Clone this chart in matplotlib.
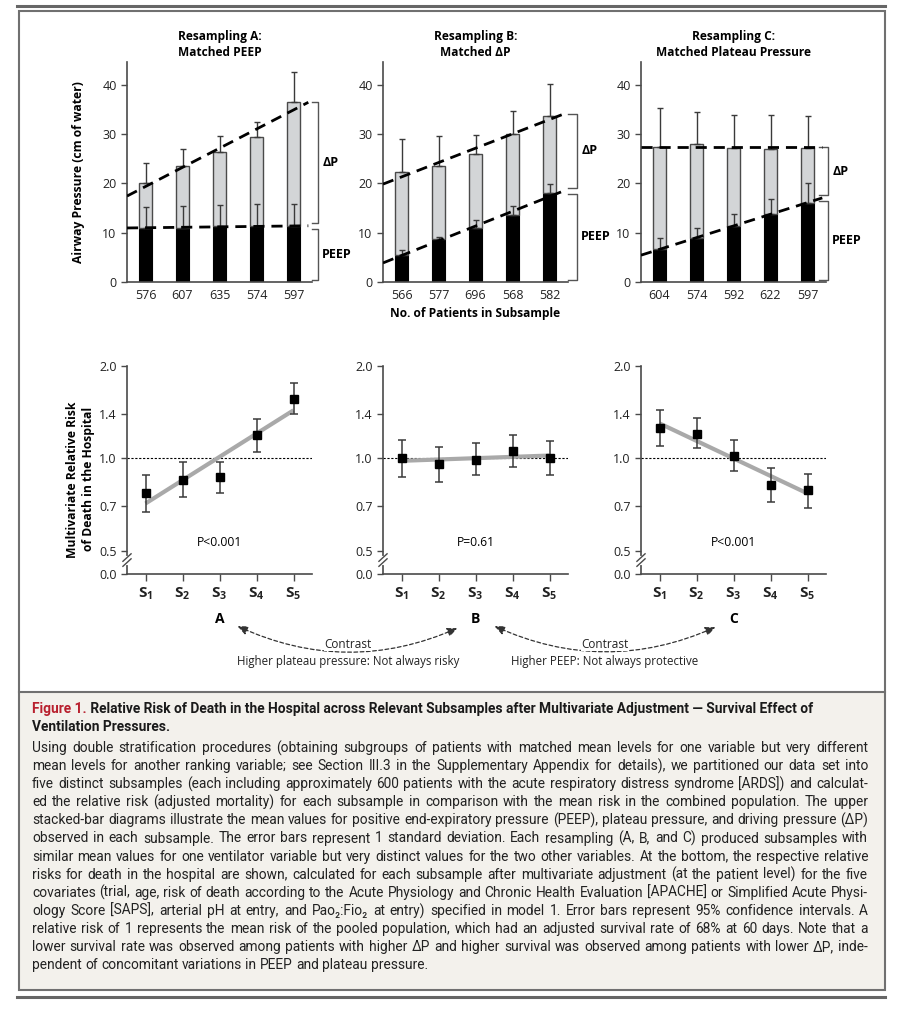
import numpy as np
import matplotlib.pyplot as plt
from matplotlib.patches import Rectangle, FancyArrowPatch

plt.rcParams['font.family'] = ['Open Sans', 'DejaVu Sans']
plt.rcParams['mathtext.fontset'] = 'custom'
plt.rcParams['mathtext.rm'] = 'Open Sans'
plt.rcParams['mathtext.bf'] = 'Open Sans:bold'
plt.rcParams['mathtext.it'] = 'Open Sans:italic'

# --- dane: gorne wykresy (srednie i 1 SD w gore) ---
n_A = ['576', '607', '635', '574', '597']
peep_A = [11.0, 11.0, 11.3, 11.3, 11.3]
peep_sd_A = [4.3, 4.4, 4.4, 4.6, 4.6]
plat_A = [20.0, 23.5, 26.3, 29.3, 36.5]
plat_sd_A = [4.2, 3.4, 3.2, 3.2, 6.0]

n_B = ['566', '577', '696', '568', '582']
peep_B = [5.5, 8.7, 10.9, 13.6, 18.0]
peep_sd_B = [1.0, 0.5, 1.7, 1.9, 1.9]
plat_B = [22.4, 23.5, 26.0, 30.0, 33.7]
plat_sd_B = [6.5, 6.0, 3.8, 4.7, 6.4]

n_C = ['604', '574', '592', '622', '597']
peep_C = [6.6, 9.0, 11.4, 13.7, 16.1]
peep_sd_C = [2.3, 2.0, 2.4, 3.2, 3.9]
plat_C = [27.4, 27.9, 27.2, 26.9, 27.1]
plat_sd_C = [7.8, 6.5, 6.7, 6.9, 6.6]

# --- dane: dolne wykresy (ryzyko wzgledne i 95% CI) ---
subs = ['S_1', 'S_2', 'S_3', 'S_4', 'S_5']
rr_A = [0.77, 0.85, 0.87, 1.19, 1.56]
lo_A = [0.67, 0.75, 0.77, 1.05, 1.39]
hi_A = [0.88, 0.97, 0.97, 1.34, 1.76]
rr_B = [1.00, 0.96, 0.99, 1.06, 1.00]
lo_B = [0.87, 0.84, 0.88, 0.94, 0.88]
hi_B = [1.15, 1.09, 1.12, 1.19, 1.14]
rr_C = [1.26, 1.20, 1.02, 0.82, 0.79]
lo_C = [1.10, 1.08, 0.91, 0.72, 0.69]
hi_C = [1.44, 1.35, 1.15, 0.93, 0.89]
p_vals = ['P<0.001', 'P=0.61', 'P<0.001']

W, H = 900, 1016
fig = plt.figure(figsize=(W/100, H/100), dpi=100)
bg = fig.add_axes([0, 0, 1, 1])
bg.set_xlim(0, W)
bg.set_ylim(H, 0)
bg.axis('off')


def px_axes(x0, y0, x1, y1):
    a = fig.add_axes([x0/W, 1 - y1/H, (x1-x0)/W, (y1-y0)/H])
    a.set_facecolor('none')
    return a


def style(ax):
    for s in ['top', 'right']:
        ax.spines[s].set_visible(False)
    for s in ['left', 'bottom']:
        ax.spines[s].set_color('#4a4a4a')
        ax.spines[s].set_linewidth(1.2)
    ax.tick_params(colors='#4a4a4a', labelcolor='#222222', labelsize=9, width=1, length=4)


# ramka i podpis
bg.plot([17, 885], [6, 6], color='#666666', lw=2.2)
bg.plot([17, 885], [997, 997], color='#666666', lw=2.2)
bg.add_patch(Rectangle((19, 692), 866, 298, facecolor='#f3f1ec', edgecolor='none'))
bg.add_patch(Rectangle((19, 11), 866, 979, facecolor='none', edgecolor='#707070', lw=1.5))
bg.plot([19, 885], [692, 692], color='#707070', lw=1.5)

x = np.arange(5)
xs = np.array([-0.5, 4.4])
top_boxes = [(127, 312), (383, 568), (641, 826)]
titles = ['Resampling A:\nMatched PEEP', 'Resampling B:\nMatched ΔP', 'Resampling C:\nMatched Plateau Pressure']
top_data = [(n_A, peep_A, peep_sd_A, plat_A, plat_sd_A),
            (n_B, peep_B, peep_sd_B, plat_B, plat_sd_B),
            (n_C, peep_C, peep_sd_C, plat_C, plat_sd_C)]
brk_x = [(4.5, 4.66), (4.5, 4.74), (4.3, 4.55)]

for i, (x0, x1) in enumerate(top_boxes):
    n, peep, peep_sd, plat, plat_sd = top_data[i]
    peep = np.array(peep)
    plat = np.array(plat)
    ax = px_axes(x0, 62, x1, 282)
    style(ax)
    ax.bar(x, peep, width=0.37, color='black', edgecolor='black', lw=0.8, zorder=2)
    ax.bar(x, plat - peep, bottom=peep, width=0.37, color='#d3d5d7', edgecolor='#4a4a4a', lw=1, zorder=2)
    zero = np.zeros(5)
    ax.errorbar(x, plat, yerr=[zero, plat_sd], fmt='none', ecolor='#3a3a3a', elinewidth=1, capsize=2.5, capthick=1, zorder=3)
    ax.errorbar(x, peep, yerr=[zero, peep_sd], fmt='none', ecolor='#3a3a3a', elinewidth=1, capsize=2.5, capthick=1, zorder=3)
    # linie trendu
    fp = np.polyfit(x, peep, 1)
    ft = np.polyfit(x, plat, 1)
    if i == 2:
        ft = np.array([0.0, plat.mean()])
    ax.plot(xs, np.polyval(ft, xs), color='black', lw=2, dashes=(4, 2.5), zorder=4)
    ax.plot(xs, np.polyval(fp, xs), color='black', lw=2, dashes=(4, 2.5), zorder=4)
    ax.set_xlim(-0.5, 4.5)
    ax.set_ylim(0, 44.6)
    ax.set_yticks([0, 10, 20, 30, 40])
    ax.set_xticks(x, n)
    ax.tick_params(axis='x', length=0, pad=5)
    ax.set_title(titles[i], fontsize=8.6, fontweight='bold', pad=4, linespacing=1.3)
    # klamry
    pe = np.polyval(fp, 4.4)
    te = np.polyval(ft, 4.4)
    bx0, bx1 = brk_x[i]
    for lo, hi, lab in [(pe + 0.5, te, 'ΔP'), (0.4, pe - 0.6, 'PEEP')]:
        ax.plot([bx0, bx1, bx1, bx0], [lo, lo, hi, hi], color='#555555', lw=1, clip_on=False)
        ax.text(bx1 + 0.12, (lo + hi) / 2, lab, fontsize=9, fontweight='bold', va='center', ha='left')
    if i == 0:
        ax.set_ylabel('Airway Pressure (cm of water)', fontsize=8.7, fontweight='bold')
        ax.yaxis.set_label_coords(-0.225, 0.5)
    if i == 1:
        ax.set_xlabel('No. of Patients in Subsample', fontsize=8.6, fontweight='bold', labelpad=4)

# dolne wykresy
bot_data = [(rr_A, lo_A, hi_A), (rr_B, lo_B, hi_B), (rr_C, lo_C, hi_C)]
letters = ['A', 'B', 'C']
for i, (x0, x1) in enumerate(top_boxes):
    rr, lo, hi = [np.array(v) for v in bot_data[i]]
    ax = px_axes(x0, 366, x1, 574)
    style(ax)
    ax.set_yscale('log')
    ax.set_xlim(-0.5, 4.5)
    ax.set_ylim(0.42, 2.0)
    ax.axhline(1.0, color='black', lw=0.8, dashes=(2, 1.5), zorder=1)
    f = np.polyfit(x, np.log(rr), 1)
    ax.plot(x[[0, -1]], np.exp(np.polyval(f, x[[0, -1]])), color='#a9a9a9', lw=3, solid_capstyle='butt', zorder=2)
    ax.errorbar(x, rr, yerr=[rr - lo, hi - rr], fmt='s', color='black', ms=6, ecolor='#3a3a3a',
                elinewidth=1.1, capsize=3, capthick=1.1, zorder=3)
    ax.set_yticks([0.42, 0.5, 0.7, 1.0, 1.4, 2.0], ['0.0', '0.5', '0.7', '1.0', '1.4', '2.0'])
    ax.yaxis.set_minor_locator(plt.NullLocator())
    ax.set_xticks(x, [r'$\mathbf{' + s + '}$' for s in subs], fontsize=11)
    ax.tick_params(axis='x', length=5, pad=3)
    ax.text(2, 0.53, p_vals[i], ha='center', va='center', fontsize=8.7)
    ax.text(2, -0.215, letters[i], transform=ax.get_xaxis_transform(), ha='center', va='center',
            fontsize=10, fontweight='bold')
    # przerwa na osi y
    yb = 0.067
    ax.plot([0, 0], [yb - 0.012, yb + 0.012], color='white', lw=3, transform=ax.transAxes, clip_on=False, zorder=5)
    for d in [-0.012, 0.012]:
        ax.plot([-0.022, 0.022], [yb + d - 0.018, yb + d + 0.018], color='#4a4a4a', lw=1,
                transform=ax.transAxes, clip_on=False, zorder=6)
    if i == 0:
        ax.set_ylabel('Multivariate Relative Risk\nof Death in the Hospital', fontsize=8.7,
                      fontweight='bold', linespacing=1.3)
        ax.yaxis.set_label_coords(-0.175, 0.455)

# strzalki "Contrast"
for (xa, ya), (xb, yb2), cx, txt in [((235, 625), (460, 627), 348, 'Higher plateau pressure: Not always risky'),
                                      ((492, 625), (718, 626), 605, 'Higher PEEP: Not always protective')]:
    arr = FancyArrowPatch((xa, ya), (xb, yb2), connectionstyle='arc3,rad=0.23',
                          arrowstyle='<|-|>,head_length=0.5,head_width=0.22', mutation_scale=12,
                          color='#333333', lw=0.9, linestyle=(0, (3, 2)))
    bg.add_patch(arr)
    bg.text(cx, 644, 'Contrast', ha='center', va='center', fontsize=8.5, color='#222222',
            bbox=dict(facecolor='white', edgecolor='none', pad=0.5))
    bg.text(cx, 662, txt, ha='center', va='center', fontsize=8.3, color='#222222')

# podpis (wyjustowany)
cap_font = ['Roboto', 'DejaVu Sans']
title_1 = 'Relative Risk of Death in the Hospital across Relevant Subsamples after Multivariate Adjustment — Survival Effect of'
title_2 = 'Ventilation Pressures.'
body = [
    'Using double stratification procedures (obtaining subgroups of patients with matched mean levels for one variable but very different',
    'mean levels for another ranking variable; see Section III.3 in the Supplementary Appendix for details), we partitioned our data set into',
    'five distinct subsamples (each including approximately 600 patients with the acute respiratory distress syndrome [ARDS]) and calculat-',
    'ed the relative risk (adjusted mortality) for each subsample in comparison with the mean risk in the combined population. The upper',
    'stacked-bar diagrams illustrate the mean values for positive end-expiratory pressure (PEEP), plateau pressure, and driving pressure (ΔP)',
    'observed in each subsample. The error bars represent 1 standard deviation. Each resampling (A, B, and C) produced subsamples with',
    'similar mean values for one ventilator variable but very distinct values for the two other variables. At the bottom, the respective relative',
    'risks for death in the hospital are shown, calculated for each subsample after multivariate adjustment (at the patient level) for the five',
    'covariates (trial, age, risk of death according to the Acute Physiology and Chronic Health Evaluation [APACHE] or Simplified Acute Physi-',
    'ology Score [SAPS], arterial pH at entry, and Pao₂:Fio₂ at entry) specified in model 1. Error bars represent 95% confidence intervals. A',
    'relative risk of 1 represents the mean risk of the pooled population, which had an adjusted survival rate of 68% at 60 days. Note that a',
    'lower survival rate was observed among patients with higher ΔP and higher survival was observed among patients with lower ΔP, inde-',
    'pendent of concomitant variations in PEEP and plateau pressure.',
]

rend = fig.canvas.get_renderer()


def width_px(s, size, weight='normal'):
    t = bg.text(0, 0, s, family=cap_font, fontsize=size, fontweight=weight)
    w = t.get_window_extent(renderer=rend).width
    t.remove()
    return w


x_left, x_right = 32, 868
# rozmiar czcionki tak, zeby najdluzszy wiersz sie zmiescil
ref = 10
maxw = max(width_px(l, ref) for l in body)
body_size = ref * (x_right - x_left) / maxw * 0.99
tw = width_px('Figure 1. ' + title_1, ref, 'bold')
title_size = ref * (812 - x_left) / tw


def justify(line, y, size, last=False):
    words = line.split(' ')
    ws = [width_px(w, size) for w in words]
    if last:
        gap = width_px('a a', size) - width_px('aa', size)
    else:
        gap = (x_right - x_left - sum(ws)) / (len(words) - 1)
    xp = x_left
    for w, wd in zip(words, ws):
        bg.text(xp, y, w, family=cap_font, fontsize=size, color='#222222', va='center')
        xp += wd + gap


t0 = bg.text(x_left, 709, 'Figure 1.', family=cap_font, fontsize=title_size, fontweight='bold',
             color='#b8202e', va='center')
bg.annotate(' ' + title_1, xy=(1, 0.5), xycoords=t0, va='center', family=cap_font, fontsize=title_size,
            fontweight='bold', color='#1a1a1a')
bg.text(x_left, 727, title_2, family=cap_font, fontsize=title_size, fontweight='bold', color='#1a1a1a', va='center')
for k, line in enumerate(body):
    justify(line, 748 + k * 18.1, body_size, last=(k == len(body) - 1))

fig.savefig('out.png', dpi=100)
